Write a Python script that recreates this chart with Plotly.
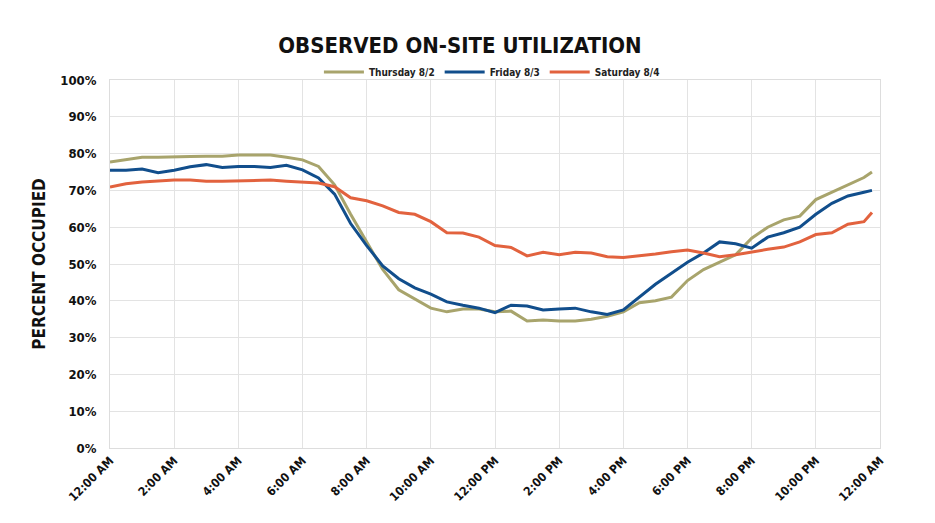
import plotly.graph_objects as go

hours = [0, 0.5, 1, 1.5, 2, 2.5, 3, 3.5, 4, 4.5, 5, 5.5, 6, 6.5, 7, 7.5, 8, 8.5,
         9, 9.5, 10, 10.5, 11, 11.5, 12, 12.5, 13, 13.5, 14, 14.5, 15, 15.5, 16,
         16.5, 17, 17.5, 18, 18.5, 19, 19.5, 20, 20.5, 21, 21.5, 22, 22.5, 23,
         23.5, 23.75]

thursday = [77.7, 78.3, 79, 79, 79, 79.2, 79.3, 79.3, 79.6, 79.6, 79.6, 79, 78.3,
            76.5, 71.5, 63.5, 56, 48.5, 43, 40.5, 38, 37, 37.8, 37.8, 37, 37.2,
            34.5, 34.8, 34.5, 34.5, 35, 35.8, 37, 39.5, 40, 41, 45.5, 48.5, 50.5,
            52.5, 57, 60, 62, 63, 67.5, 69.5, 71.5, 73.5, 75]

friday = [75.5, 75.5, 75.8, 74.8, 75.5, 76.4, 77, 76.2, 76.5, 76.5, 76.2, 76.8,
          75.6, 73.4, 69, 61, 55, 49.5, 46, 43.5, 41.8, 39.7, 38.8, 38, 36.8,
          38.8, 38.6, 37.5, 37.8, 38, 37, 36.3, 37.5, 41, 44.5, 47.5, 50.5, 53,
          56, 55.5, 54.3, 57.3, 58.5, 60, 63.5, 66.5, 68.5, 69.5, 70]

saturday = [70.9, 71.8, 72.3, 72.6, 72.8, 72.8, 72.5, 72.5, 72.6, 72.8, 72.8,
            72.5, 72.3, 72, 71, 68, 67.2, 65.8, 64, 63.5, 61.5, 58.5, 58.4, 57.3,
            55, 54.5, 52.2, 53.2, 52.5, 53.2, 53, 52, 51.8, 52.2, 52.7, 53.3, 53.8,
            53, 52, 52.5, 53.3, 54, 54.6, 56, 58, 58.5, 60.8, 61.5, 64]

series_names = ["Thursday 8/2", "Friday 8/3", "Saturday 8/4"]
series_colors = ["#A8A46C", "#114E8C", "#E2623E"]

tick_hours = [0, 2, 4, 6, 8, 10, 12, 14, 16, 18, 20, 22, 24]
tick_labels = ["12:00 AM", "2:00 AM", "4:00 AM", "6:00 AM", "8:00 AM", "10:00 AM",
               "12:00 PM", "2:00 PM", "4:00 PM", "6:00 PM", "8:00 PM", "10:00 PM",
               "12:00 AM"]
y_ticks = [0, 10, 20, 30, 40, 50, 60, 70, 80, 90, 100]

FONT = "DejaVu Sans Condensed, DejaVu Sans, sans-serif"

fig = go.Figure()
for name, vals, col in zip(series_names, [thursday, friday, saturday], series_colors):
    fig.add_trace(go.Scatter(x=hours, y=vals, mode="lines", name="<b>%s</b>" % name,
                             line=dict(color=col, width=3)))

fig.update_layout(
    width=935, height=523,
    paper_bgcolor="white", plot_bgcolor="white",
    margin=dict(l=102, r=63, t=72, b=83, autoexpand=False),
    font=dict(family=FONT, color="#111111"),
    title=dict(text="<b>OBSERVED ON-SITE UTILIZATION</b>", x=0.4834, xanchor="center",
               y=0.929, yanchor="middle",
               font=dict(size=22, family=FONT, color="#111111")),
    legend=dict(orientation="h", x=0.496, xanchor="center", y=1.022, yanchor="middle",
                font=dict(size=10, family=FONT, color="#222222"), itemwidth=40,
                bgcolor="rgba(0,0,0,0)"),
    showlegend=True,
)
fig.update_xaxes(range=[0, 24], tickvals=tick_hours, ticktext=["<b>%s</b>" % t for t in tick_labels],
                 tickangle=-45, showgrid=True, gridcolor="#e3e3e3", gridwidth=1,
                 showline=True, linecolor="#dddddd", mirror=True, zeroline=False,
                 tickfont=dict(size=12, family=FONT, color="#111111"), ticks="",
                 automargin=False)
fig.update_yaxes(range=[0, 100], tickvals=y_ticks, ticktext=["<b>%d%%</b>" % v for v in y_ticks],
                 showgrid=True, gridcolor="#e3e3e3", gridwidth=1,
                 showline=True, linecolor="#dddddd", mirror=True, zeroline=False,
                 tickfont=dict(size=13, family=FONT, color="#111111"), ticks="",
                 ticklabelstandoff=10, automargin=False,
                 title=dict(text="<b>PERCENT OCCUPIED</b>", standoff=10,
                            font=dict(size=17, family=FONT, color="#111111")))

fig.write_html("out.html")
